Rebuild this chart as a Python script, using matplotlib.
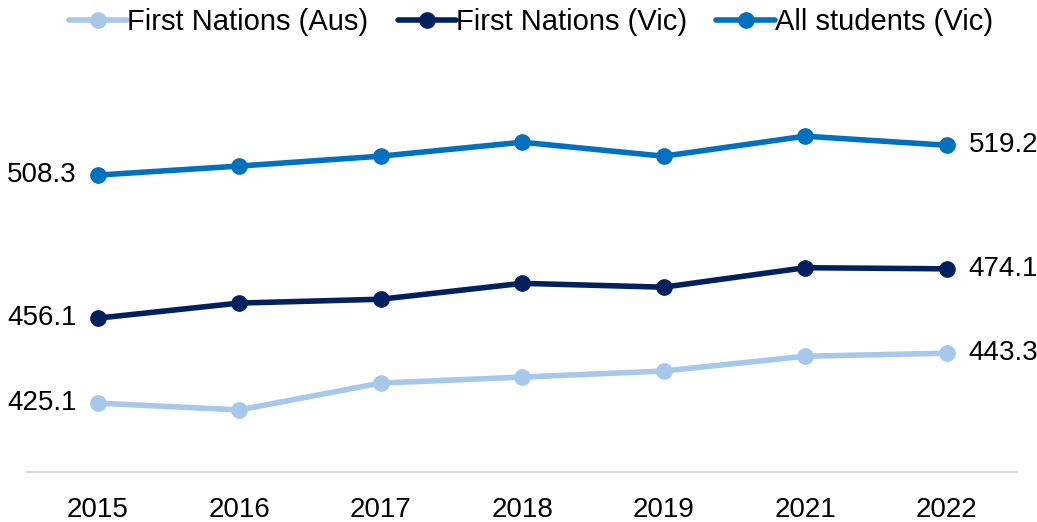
import matplotlib.pyplot as plt

plt.rcParams['font.family'] = ['Liberation Sans', 'DejaVu Sans']

years = ['2015', '2016', '2017', '2018', '2019', '2021', '2022']
fn_aus = [425.1, 422.6, 432.4, 434.6, 436.8, 442.2, 443.3]
fn_vic = [456.1, 461.6, 463.0, 468.8, 467.4, 474.5, 474.1]
all_vic = [508.3, 511.6, 515.2, 520.3, 515.2, 522.5, 519.2]

series = [
    ('First Nations (Aus)', fn_aus, '#A5C8EB'),
    ('First Nations (Vic)', fn_vic, '#002060'),
    ('All students (Vic)', all_vic, '#0070C0'),
]

fig = plt.figure(figsize=(10.37, 5.22), dpi=100)
ax = fig.add_axes([0.026, 0.096, 0.955, 0.735])

x = list(range(len(years)))
for name, vals, col in series:
    ax.plot(x, vals, color=col, linewidth=4, marker='o', markersize=11,
            label=name, solid_capstyle='round')
    ax.annotate(f'{vals[0]:.1f}', (x[0], vals[0]), xytext=(-15, 0),
                textcoords='offset points', ha='right', va='center', fontsize=20)
    ax.annotate(f'{vals[-1]:.1f}', (x[-1], vals[-1]), xytext=(16, 0),
                textcoords='offset points', ha='left', va='center', fontsize=20)

ax.set_xlim(-0.5, 6.5)
ax.set_ylim(400, 540)
ax.set_xticks(x)
ax.set_xticklabels(years, fontsize=20)
ax.set_yticks([])
for s in ['top', 'right', 'left']:
    ax.spines[s].set_visible(False)
ax.spines['bottom'].set_color('#D9D9D9')
ax.spines['bottom'].set_linewidth(1.5)
ax.tick_params(axis='x', length=0, pad=18)

fig.legend(loc='upper center', bbox_to_anchor=(0.512, 1.035), ncol=3, frameon=False,
           fontsize=21, handlelength=2.0, handletextpad=0.0, columnspacing=1.0)

plt.savefig('out.png', dpi=100)
